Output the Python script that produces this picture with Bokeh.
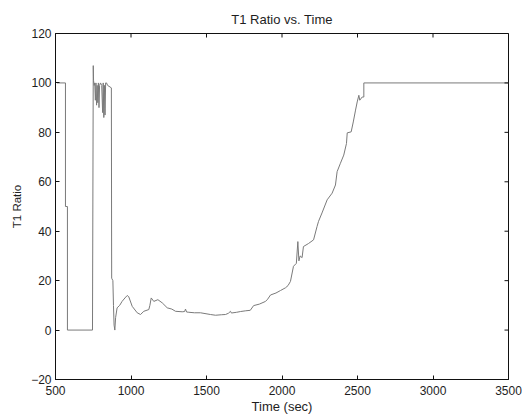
import math
from bokeh.plotting import figure
from bokeh.models import Range1d, FixedTicker
from bokeh.embed import file_html
from bokeh.resources import INLINE

# Time (sec) and T1 ratio
time_sec = [510, 566, 566, 579, 579, 745, 750, 752, 756, 760, 764, 768, 772, 776, 780,
            784, 788, 792, 798, 806, 812, 816, 820, 824, 828, 832, 838, 845, 870,
            872, 880, 884, 888, 893, 898, 908, 925, 941,
            960, 975, 985, 1008, 1041, 1063, 1085, 1118, 1125, 1134, 1151, 1178, 1207,
            1240, 1270, 1295, 1339, 1355, 1361, 1368, 1383, 1420, 1460, 1526, 1560,
            1600, 1626, 1645, 1659, 1665, 1700, 1725, 1760, 1790, 1812, 1850, 1891,
            1905, 1924, 1960, 1990, 2023, 2040, 2056, 2076, 2095, 2105, 2112, 2120,
            2133, 2142, 2175, 2209, 2232, 2242, 2265, 2299, 2332, 2354, 2365, 2387,
            2409, 2427, 2432, 2458, 2472, 2487, 2498, 2509, 2515, 2531, 2542, 2542, 3500]
t1_ratio = [100, 100, 50, 50, 0, 0, 107, 101, 99, 100, 93, 100, 91, 99, 92,
            100, 90, 99, 100, 99, 88, 100, 86, 99, 87, 100, 100, 99, 98,
            21, 20, 10, 2, 0, 5, 9, 10, 11.6,
            13, 14, 13.5, 9.6, 7, 6.3, 7.6, 8.3, 10, 13, 11.6, 12.3, 11,
            9, 8.5, 7.6, 7.4, 7.5, 8.5, 7.3, 7.2, 7, 7, 6.3, 6,
            6.2, 6.3, 6.8, 7.6, 6.9, 7.2, 7.5, 7.8, 8, 9.9, 10.5, 11.6,
            12.5, 14.2, 15, 16, 17.1, 18, 19.7, 25.8, 27, 35.8, 28, 30,
            29.3, 33.8, 35, 36.5, 41.9, 44, 47.4, 52.7, 55.4, 58.7, 64.1, 67.5,
            70.8, 75.5, 79.8, 80.2, 84.2, 89, 92.3, 95, 93, 94.3, 94.3, 100, 100]

x_ticks = [500, 1000, 1500, 2000, 2500, 3000, 3500]
y_ticks = [-20, 0, 20, 40, 60, 80, 100, 120]
x_min, x_max = 500, 3500
y_min, y_max = -20, 120

FONT = "Liberation Sans"
TXT = "#1e1e1e"
AX = "#111111"

p = figure(width=522, height=416, output_backend="svg", toolbar_location=None,
           x_range=Range1d(x_min, x_max), y_range=Range1d(y_min, y_max),
           title="T1 Ratio vs. Time",
           min_border_left=55, min_border_right=14, min_border_top=33, min_border_bottom=35)

p.line(time_sec, t1_ratio, line_color="#7a7a7a", line_width=1)

# MATLAB-style inward ticks on the top and right edges (half of each dash is clipped by the frame)
p.scatter(x_ticks, [y_max] * len(x_ticks), marker="dash", size=8, angle=math.pi / 2,
          line_color=AX, line_width=1)
p.scatter([x_max] * len(y_ticks), y_ticks, marker="dash", size=8, angle=0,
          line_color=AX, line_width=1)

p.grid.visible = False
p.outline_line_color = AX
p.background_fill_color = "white"
p.border_fill_color = "white"

p.title.align = "center"
p.title.text_font = FONT
p.title.text_font_size = "13px"
p.title.text_font_style = "normal"
p.title.text_color = TXT
p.title.offset = 0
p.title.standoff = 13

for ax in (p.xaxis[0], p.yaxis[0]):
    ax.major_label_text_font = FONT
    ax.major_label_text_font_size = "12px"
    ax.major_label_text_color = TXT
    ax.axis_label_text_font = FONT
    ax.axis_label_text_font_style = "normal"
    ax.axis_label_text_color = TXT
    ax.major_tick_in = 4
    ax.major_tick_out = 0
    ax.minor_tick_line_color = None
    ax.axis_line_color = AX
    ax.major_tick_line_color = AX

p.xaxis[0].ticker = FixedTicker(ticks=x_ticks)
p.yaxis[0].ticker = FixedTicker(ticks=y_ticks)
p.xaxis[0].axis_label = "Time (sec)"
p.yaxis[0].axis_label = "T1 Ratio"
p.xaxis[0].axis_label_text_font_size = "13px"
p.yaxis[0].axis_label_text_font_size = "11.5px"
p.xaxis[0].major_label_standoff = 6
p.xaxis[0].axis_label_standoff = 1
p.yaxis[0].major_label_standoff = 4
p.yaxis[0].axis_label_standoff = 5

open("out.html", "w").write(file_html(p, INLINE))
